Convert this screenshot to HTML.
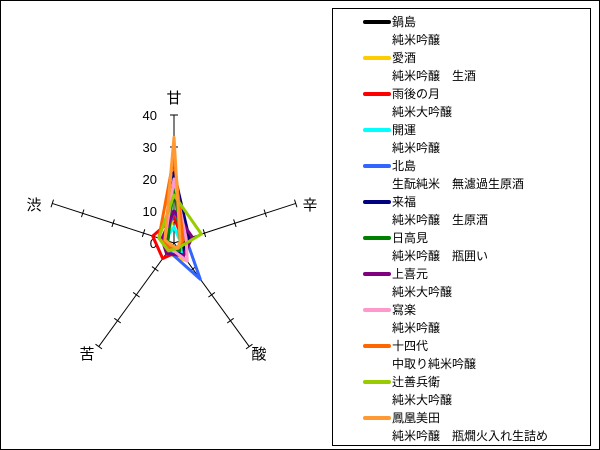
<!DOCTYPE html>
<html><head><meta charset="utf-8"><style>
body{margin:0;background:#fff}
#w{position:relative;width:598px;height:448px;border:1px solid #000;overflow:hidden;font-family:"Liberation Sans","Noto Sans CJK JP",sans-serif}
#lg{position:absolute;left:331px;top:7px;width:257px;height:436px;border:1px solid #000}
.t{position:absolute;left:59px;font-size:12px;line-height:14px;white-space:pre;color:#000}
.l{position:absolute;left:30px;width:28px;height:4px;border-radius:2px}
</style></head><body><div id="w">
<svg id="s" width="330" height="448" style="position:absolute;left:0;top:0" font-family="Liberation Sans, Noto Sans CJK JP, sans-serif"></svg>
<div id="lg"></div>
</div>
<script>
var cx=173,cy=242,k=3.2;
var d=[[0,-1],[0.951,-0.309],[0.588,0.809],[-0.588,0.809],[-0.951,-0.309]];
var s='';
d.forEach(function(v){
 s+='<line x1="'+cx+'" y1="'+cy+'" x2="'+(cx+v[0]*128)+'" y2="'+(cy+v[1]*128)+'" stroke="#000" stroke-width="1"/>';
 for(var i=1;i<=4;i++){var r=i*32,px=cx+v[0]*r,py=cy+v[1]*r,nx=-v[1]*4,ny=v[0]*4;
  s+='<line x1="'+(px-nx)+'" y1="'+(py-ny)+'" x2="'+(px+nx)+'" y2="'+(py+ny)+'" stroke="#000"/>';}
});
[0,10,20,30,40].forEach(function(n){s+='<text x="'+(cx-17)+'" y="'+(cy-n*k+5)+'" font-size="13" text-anchor="end">'+n+'</text>';});
var lb=[['甘',173,102],['辛',309,209],['酸',258,358],['苦',86,358],['渋',33,209]];
lb.forEach(function(a){s+='<text x="'+a[1]+'" y="'+a[2]+'" font-size="15" text-anchor="middle">'+a[0]+'</text>';});
var data=[
['#000000',[20,4,4,3,3],'鍋島','純米吟醸'],
['#ffcc00',[8,4,7,4,3],'愛酒','純米吟醸　生酒'],
['#ff0000',[8,3,3,6,7],'雨後の月','純米大吟醸'],
['#00ffff',[5,2,4,3,3],'開運','純米吟醸'],
['#3366ff',[10,4,14,3,3],'北島','生酛純米　無濾過生原酒'],
['#000080',[22,5,5,2,2],'来福','純米吟醸　生原酒'],
['#008000',[20,2,3,2,2],'日高見','純米吟醸　瓶囲い'],
['#800080',[10,6,5,4,4],'上喜元','純米大吟醸'],
['#ff99cc',[20,4,7,2,3],'寫楽','純米吟醸'],
['#ff6600',[27,3,2,2,5],'十四代','中取り純米吟醸'],
['#99cc00',[15,9,2,3,5],'辻善兵衛','純米大吟醸'],
['#ff9933',[33,2,2,1,3],'鳳凰美田','純米吟醸　瓶燗火入れ生詰め']];
var L='';
data.forEach(function(e,i){
 var p=e[1].map(function(v,j){return (cx+d[j][0]*v*k).toFixed(1)+','+(cy+d[j][1]*v*k).toFixed(1)}).join(' ');
 s+='<polygon points="'+p+'" fill="none" stroke="'+e[0]+'" stroke-width="3" stroke-linejoin="round"/>';
 var y=6+i*36;
 L+='<div class="l" style="top:'+(y+5)+'px;background:'+e[0]+'"></div><div class="t" style="top:'+y+'px">'+e[2]+'</div><div class="t" style="top:'+(y+18)+'px">'+e[3]+'</div>';
});
document.getElementById('s').innerHTML=s;
document.getElementById('lg').innerHTML=L;
</script>
</body></html>
